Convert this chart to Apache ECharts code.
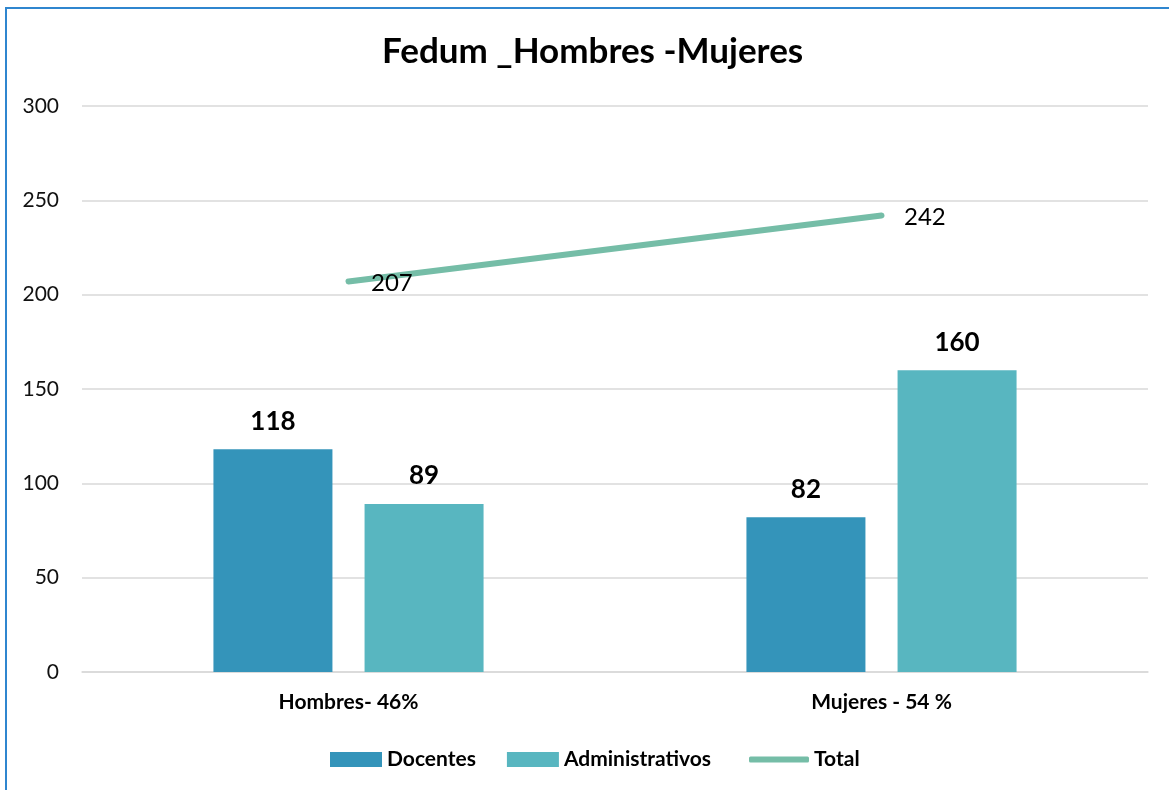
<html>
<head>
<meta charset="utf-8">
<script src="https://cdn.jsdelivr.net/npm/echarts@6/dist/echarts.min.js"></script>
<style>
    body { margin: 0; background: #fff; }
    #main { position: absolute; left: 0; top: 0; width: 1169px; height: 790px; }
    .frame {
        position: absolute; left: 5px; top: 7px; right: -10px; bottom: -10px;
        border-left: 2px solid #2f86cf; border-top: 2px solid #2f86cf;
        pointer-events: none;
    }
</style>
</head>
<body>
<div id="main"></div>
<div class="frame"></div>
<script>
    var categories = ['Hombres- 46%', 'Mujeres - 54 %'];
    var docentes = [118, 82];
    var administrativos = [89, 160];
    var total = [207, 242];

    var FONT = 'Lato, "Open Sans", sans-serif';

    var chart = echarts.init(document.getElementById('main'), null, { renderer: 'canvas' });

    var barLabel = {
        show: true,
        position: 'top',
        distance: 15,
        fontFamily: FONT,
        fontSize: 26,
        fontWeight: 'bold',
        color: '#000'
    };

    var legendText = { fontFamily: FONT, fontSize: 21, fontWeight: 'bold', color: '#000' };

    chart.setOption({
        animation: false,
        title: {
            text: 'Fedum _Hombres -Mujeres',
            left: 382,
            top: 34,
            padding: 0,
            textStyle: { fontFamily: FONT, fontSize: 35, fontWeight: 'bold', color: '#000' }
        },
        legend: [
            {
                top: 744,
                left: 325,
                itemWidth: 52,
                itemHeight: 15,
                itemGap: 31,
                textStyle: legendText,
                data: [
                    { name: 'Docentes', icon: 'rect' },
                    { name: 'Administrativos', icon: 'rect' }
                ]
            },
            {
                top: 744,
                left: 744,
                itemWidth: 60,
                itemHeight: 6,
                textStyle: legendText,
                data: [{ name: 'Total', icon: 'roundRect' }]
            }
        ],
        grid: { left: 82, right: 21, top: 106, bottom: 118 },
        xAxis: {
            type: 'category',
            data: categories,
            axisLine: { lineStyle: { color: '#d9d9d9', width: 1.5 } },
            axisTick: { show: false },
            axisLabel: { fontFamily: FONT, fontSize: 21, fontWeight: 'bold', color: '#000', margin: 20 }
        },
        yAxis: {
            type: 'value',
            min: 0,
            max: 300,
            interval: 50,
            axisLine: { show: false },
            axisTick: { show: false },
            splitLine: { lineStyle: { color: '#d9d9d9', width: 1.5 } },
            axisLabel: { fontFamily: FONT, fontSize: 21, color: '#111', margin: 23 }
        },
        series: [
            {
                name: 'Docentes',
                type: 'bar',
                data: docentes,
                barWidth: 119,
                barGap: '27%',
                itemStyle: { color: '#3494ba' },
                label: barLabel
            },
            {
                name: 'Administrativos',
                type: 'bar',
                data: administrativos,
                barWidth: 119,
                barGap: '27%',
                itemStyle: { color: '#58b6c0' },
                label: barLabel
            },
            {
                name: 'Total',
                type: 'line',
                data: total,
                symbol: 'circle',
                symbolSize: 1,
                lineStyle: { color: '#75bda7', width: 6, cap: 'round' },
                itemStyle: { color: '#75bda7' },
                label: {
                    show: true,
                    position: 'right',
                    distance: 22,
                    offset: [0, 2],
                    fontFamily: FONT,
                    fontSize: 24,
                    color: '#000'
                }
            }
        ]
    });
</script>
</body>
</html>
